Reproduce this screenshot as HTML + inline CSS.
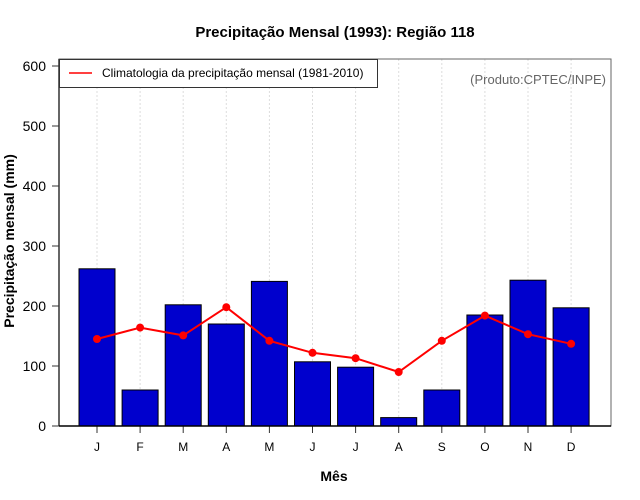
<!DOCTYPE html>
<html><head><meta charset="utf-8"><style>
body{margin:0;background:#fff;}
svg{display:block;font-family:"Liberation Sans",sans-serif;}
</style></head><body>
<svg id="chart" width="640" height="500">
<text x="335" y="37" text-anchor="middle" font-size="15" font-weight="bold">Precipitação Mensal (1993): Região 118</text>
<text x="334" y="481" text-anchor="middle" font-size="14" font-weight="bold">Mês</text>
<text transform="translate(14,241) rotate(-90)" text-anchor="middle" font-size="14" font-weight="bold">Precipitação mensal (mm)</text>
<g id="grid"></g><g id="bars"></g><g id="line"></g><g id="axes"></g>
<rect x="59" y="59" width="552" height="367" fill="none" stroke="#666" stroke-width="1"/>
<line x1="59" y1="59" x2="59" y2="426" stroke="#333" stroke-width="1.5"/>
<line x1="59" y1="426" x2="611" y2="426" stroke="#000" stroke-width="1.5"/>
<g>
<rect x="59.5" y="59.5" width="318" height="28" fill="#fff" stroke="#333"/>
<line x1="69" y1="73" x2="92" y2="73" stroke="#f00" stroke-width="1.5"/>
<text x="102" y="77" font-size="12">Climatologia da precipitação mensal (1981-2010)</text>
</g>
<text x="606" y="84" text-anchor="end" font-size="13" fill="#666">(Produto:CPTEC/INPE)</text>
</svg>
<script>
const months=["J","F","M","A","M","J","J","A","S","O","N","D"];
const precip=[262,60,202,170,241,107,98,14,60,185,243,197];
const clim=[145,164,151,198,142,122,113,90,142,184,153,137];
const yTicks=[0,100,200,300,400,500,600];
const NS="http://www.w3.org/2000/svg";
const x=i=>97+i*43.1;
const y=v=>426-v*0.6;
function mk(t,a,p){const e=document.createElementNS(NS,t);for(const k in a)e.setAttribute(k,a[k]);p.appendChild(e);return e;}
const G=document.getElementById('grid'),B=document.getElementById('bars'),L=document.getElementById('line'),A=document.getElementById('axes');
months.forEach((m,i)=>{
 const g=mk('line',{x1:x(i),x2:x(i),y1:59,y2:426,stroke:'#ddd','stroke-dasharray':'2,2'},G);
 
 
 const b=mk('rect',{x:x(i)-18,y:y(precip[i]),width:36,height:precip[i]*0.6,fill:'#0000cd',stroke:'#000','stroke-width':1},B);
 
 
 const t=mk('line',{x1:x(i),x2:x(i),y1:426,y2:433,stroke:'#333'},A);
 
 
 const l=mk('text',{x:x(i),y:451,'text-anchor':'middle','font-size':12},A);l.textContent=m;
 
 
});
const pl=mk('polyline',{points:clim.map((v,i)=>x(i)+','+y(v)).join(' '),fill:'none',stroke:'#f00','stroke-width':2},L);


clim.forEach((v,i)=>{const c=mk('circle',{cx:x(i),cy:y(v),r:4,fill:'#f00'},L);
 
 });
yTicks.forEach(v=>{
 const t=mk('line',{x1:52,x2:59,y1:y(v),y2:y(v),stroke:'#333'},A);
 
 
 const l=mk('text',{x:46,y:y(v)+5,'text-anchor':'end','font-size':14},A);l.textContent=v;
 
 
});
</script>
</body></html>
